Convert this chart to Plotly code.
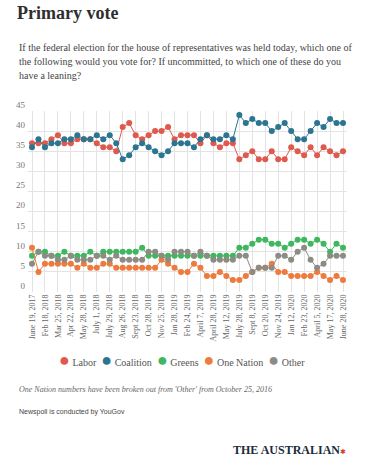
import plotly.graph_objects as go

# ---------------- data ----------------
tick_labels = [
    "June 19, 2017", "Feb 18, 2018", "Mar 25, 2018", "Apr 22, 2018", "May 28, 2018",
    "July 1, 2018", "July 29, 2018", "Aug 26, 2018", "Sept 23, 2018", "Oct 28, 2018",
    "Nov 25, 2018", "Jan 28, 2019", "Feb 24, 2019", "April 7, 2019", "April 28, 2019",
    "May 12, 2019", "July 28, 2019", "Sept 8, 2019", "Oct 20, 2019", "Nov 24, 2019",
    "Jan 12, 2020", "Feb 23, 2020", "April 5, 2020", "May 17, 2020", "June 28, 2020",
]

labor = [37, 37, 37, 38, 39, 37, 37, 38, 38, 38, 37, 36, 36, 35, 41, 42, 39, 38, 39, 40,
         40, 41, 38, 39, 39, 39, 37, 39, 37, 36, 37, 37, 33, 34, 35, 33, 33, 35, 33, 33,
         36, 35, 34, 36, 34, 36, 35, 34, 35]
coalition = [36, 38, 36, 37, 37, 38, 38, 39, 38, 38, 39, 38, 39, 37, 33, 34, 36, 37, 36, 35,
             34, 35, 37, 37, 37, 36, 38, 39, 38, 38, 39, 38, 44, 42, 43, 42, 42, 40, 41, 42,
             40, 38, 38, 40, 42, 41, 43, 42, 42]
greens = [9, 10, 10, 9, 9, 10, 9, 9, 9, 10, 9, 10, 10, 10, 10, 10, 10, 11, 9, 9,
          9, 9, 9, 9, 9, 9, 9, 9, 9, 9, 9, 9, 11, 11, 12, 13, 13, 12, 12, 11,
          12, 13, 13, 12, 13, 12, 10, 12, 11]
one_nation = [11, 5, 7, 7, 7, 7, 7, 6, 7, 6, 6, 7, 7, 6, 6, 6, 6, 6, 6, 6,
              8, 7, 6, 5, 5, 7, 6, 4, 4, 5, 4, 3, 3, 4, 5, 6, 6, 7, 5, 5,
              4, 4, 4, 4, 5, 4, 3, 4, 3]
other = [7, 10, 9, 9, 8, 8, 9, 8, 8, 8, 9, 9, 8, 9, 8, 8, 8, 8, 10, 10,
         9, 8, 10, 10, 10, 9, 10, 9, 8, 8, 8, 8, 9, 9, 5, 6, 6, 6, 9, 9,
         8, 10, 11, 8, 6, 7, 9, 9, 9]

poll_index = list(range(len(labor)))

series_names = ["Labor", "Coalition", "Greens", "One Nation", "Other"]
series_values = [labor, coalition, greens, one_nation, other]
series_colors = ["#df5a4e", "#2b7590", "#3fb75e", "#ee7b3e", "#8c8c84"]

# ---------------- layout helpers ----------------
W, H = 370, 464
L, R = 28, 347          # plot area left/right (px)
T, B = 111, 292         # plot area top (value 45) / bottom (value 0)


def px_x(x):
    return (x - L) / (R - L)


def px_y(y):
    return (B - y) / (B - T)


SERIF = "Liberation Serif, Times New Roman, serif"
SANS = "Liberation Sans, Arial, sans-serif"

fig = go.Figure()
for name, vals, col in zip(series_names, series_values, series_colors):
    fig.add_trace(go.Scatter(
        x=poll_index, y=vals, name=name, mode="lines+markers",
        line=dict(color=col, width=1),
        marker=dict(color=col, size=6),
        showlegend=False, hoverinfo="skip", cliponaxis=False,
    ))

fig.update_layout(
    width=W, height=H,
    margin=dict(l=L, r=W - R, t=T, b=H - B, pad=0),
    paper_bgcolor="white", plot_bgcolor="white",
    title=dict(
        text="<b>Primary vote</b>",
        font=dict(family=SERIF, size=18, color="#2e2e2e"),
        x=17 / W, xanchor="left", xref="container",
        y=1 - 13 / H, yanchor="middle", yref="container",
    ),
    xaxis=dict(
        range=[-(32 - L) / 6.48, 48 + (R - 343) / 6.48],
        tickvals=poll_index[::2], ticktext=tick_labels,
        tickangle=-90, showgrid=True, gridcolor="#e3e3e3", gridwidth=1,
        zeroline=False, showline=False, ticks="",
        tickfont=dict(family=SERIF, size=8, color="#666666"),
        fixedrange=True,
    ),
    yaxis=dict(
        range=[0, 45], dtick=5, tick0=0,
        showgrid=True, gridcolor="#e3e3e3", gridwidth=1,
        zeroline=False, showline=False, ticks="",
        ticklabelposition="outside top", ticklabelstandoff=2,
        tickfont=dict(family=SERIF, size=9, color="#777777"),
        fixedrange=True,
    ),
)

subtitle_lines = [
    "If the federal election for the house of representatives was held today, which one of",
    "the following would you vote for? If uncommitted, to which one of these do you",
    "have a leaning?",
]
for i, line in enumerate(subtitle_lines):
    fig.add_annotation(
        text=line, xref="paper", yref="paper",
        x=px_x(17), y=px_y(47 + i * 14.5), xanchor="left", yanchor="middle",
        showarrow=False, font=dict(family=SERIF, size=10, color="#444444"),
    )

# legend built from coloured dots
nb = "\u00a0"
legend_parts = []
for name, col in zip(series_names, series_colors):
    legend_parts.append(
        f'<span style="color:{col};font-size:18px">●</span>{nb}{name}'
    )
fig.add_annotation(
    text=(nb * 2).join(legend_parts), xref="paper", yref="paper",
    x=px_x(182), y=px_y(360), xanchor="center", yanchor="middle",
    showarrow=False, font=dict(family=SERIF, size=10, color="#555555"),
)

fig.add_annotation(
    text="<i>One Nation numbers have been broken out from 'Other' from October 25, 2016</i>",
    xref="paper", yref="paper", x=px_x(17), y=px_y(389),
    xanchor="left", yanchor="middle", showarrow=False,
    font=dict(family=SERIF, size=8, color="#666666"),
)
fig.add_annotation(
    text="Newspoll is conducted by YouGov",
    xref="paper", yref="paper", x=px_x(17), y=px_y(412),
    xanchor="left", yanchor="middle", showarrow=False,
    font=dict(family=SANS, size=7, color="#444444"),
)
fig.add_annotation(
    text='<b>THE AUSTRALIAN</b><span style="color:#d23c2e;font-size:7px">✱</span>',
    xref="paper", yref="paper", x=px_x(348), y=px_y(450),
    xanchor="right", yanchor="middle", showarrow=False,
    font=dict(family=SERIF, size=12, color="#1c2c3c"),
)

fig.write_html(
    "out.html",
    config={"displayModeBar": False},
    post_script="document.body.style.margin='0';",
)
